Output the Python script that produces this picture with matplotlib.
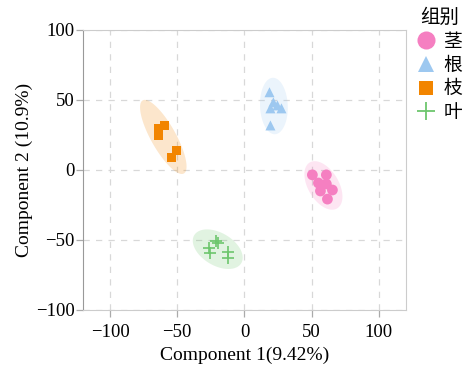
import numpy as np
import matplotlib
matplotlib.use("Agg")
import matplotlib.pyplot as plt
from matplotlib.patches import Polygon
from matplotlib.lines import Line2D

groups = ["茎", "根", "枝", "叶"]
stem_x = [50.5, 60.9, 55.0, 60.9, 56.5, 65.4, 61.7]
stem_y = [-3.6, -3.6, -9.4, -10.1, -15.1, -14.4, -20.9]
root_x = [18.6, 21.5, 24.5, 19.3, 27.5, 19.3]
root_y = [55.4, 48.2, 46.0, 43.9, 43.9, 31.7]
branch_x = [-64.0, -64.0, -64.0, -59.4, -50.5, -54.2]
branch_y = [29.5, 27.0, 24.5, 31.7, 13.7, 8.6]
leaf_x = [-21.5, -20.0, -26.7, -25.3, -12.6, -12.6]
leaf_y = [-51.1, -52.5, -56.1, -59.7, -59.0, -63.3]

xs = [stem_x, root_x, branch_x, leaf_x]
ys = [stem_y, root_y, branch_y, leaf_y]
colors = ["#F57FC1", "#9DC8F0", "#F28500", "#6DC66D"]
markers = ["o", "^", "s", "+"]
sizes = [60, 52, 42, 65]

fig = plt.figure(figsize=(4.67, 3.68), dpi=100)
ax = fig.add_axes([0.178, 0.158, 0.691, 0.761])


def cov_trob(pts, nu=5, maxit=25, tol=0.01):
    n, p = pts.shape
    loc = pts.mean(axis=0)
    w = np.ones(n)
    for _ in range(maxit):
        w0 = w
        X = pts - loc
        C = (X * (w / w.sum())[:, None]).T @ X
        Q = np.einsum("ij,jk,ik->i", X, np.linalg.inv(C), X)
        w = (nu + p) / (nu + Q)
        loc = (w[:, None] * pts).sum(axis=0) / w.sum()
        if np.all(np.abs(w - w0) < tol):
            break
    X = pts - loc
    cov = (X * w[:, None]).T @ X / n
    return loc, cov


def stat_ellipse(x, y, color, level=0.95):
    pts = np.column_stack([x, y])
    n = len(pts)
    loc, cov = cov_trob(pts)
    dfd = n - 1
    fq = (dfd / 2.0) * ((1 - level) ** (-2.0 / dfd) - 1)
    radius = np.sqrt(2 * fq)
    t = np.linspace(0, 2 * np.pi, 100)
    circ = np.column_stack([np.cos(t), np.sin(t)])
    L = np.linalg.cholesky(cov).T
    poly = loc + radius * circ @ L
    ax.add_patch(Polygon(poly, closed=True, facecolor=color, alpha=0.2,
                         edgecolor="none", zorder=1))


for x, y, c in zip(xs, ys, colors):
    stat_ellipse(x, y, c)

for x, y, c, m, s in zip(xs, ys, colors, markers, sizes):
    if m == "+":
        ax.scatter(x, y, c=c, marker=m, s=s, linewidths=1.2, zorder=3)
    else:
        ax.scatter(x, y, c=c, marker=m, s=s, edgecolors="none", zorder=3)

ax.set_xlim(-120, 120)
ax.set_ylim(-100, 100)
ax.set_xticks([-100, -50, 0, 50, 100])
ax.set_yticks([-100, -50, 0, 50, 100])
ax.grid(True, linestyle=(0, (5, 5)), color="#d8d8d8", linewidth=0.9)
ax.set_axisbelow(True)
for sp in ax.spines.values():
    sp.set_color("#cccccc")
ax.spines["left"].set_color("#999999")
ax.tick_params(colors="#aaaaaa", labelcolor="black", length=5, width=0.9)
ax.tick_params(axis="x", pad=5)
ax.tick_params(axis="y", pad=1)
for lab in ax.get_xticklabels() + ax.get_yticklabels():
    lab.set_fontfamily("Liberation Serif")
    lab.set_fontsize(13.5)
ax.set_xlabel("Component 1(9.42%)", fontfamily="Liberation Serif", fontsize=14, labelpad=4)
ax.set_ylabel("Component 2 (10.9%)", fontfamily="Liberation Serif", fontsize=14, labelpad=2)

handles = [Line2D([], [], linestyle="none", marker=m, color=c, markersize=ms,
                  markeredgewidth=1.3 if m == "+" else 0)
           for c, m, ms in zip(colors, markers, [13, 12, 10, 13])]
leg = fig.legend(handles, groups, title="组别", loc="upper left",
                 bbox_to_anchor=(0.885, 0.99), frameon=False,
                 prop={"family": ["Noto Sans CJK SC", "DejaVu Sans"], "size": 13.5},
                 handlelength=1.0, handletextpad=0.4, labelspacing=0.14,
                 borderaxespad=0.1, borderpad=0.1)
leg.get_title().set_fontfamily(["Noto Sans CJK SC", "DejaVu Sans"])
leg.get_title().set_fontsize(14)

fig.savefig("out.png", dpi=100)
